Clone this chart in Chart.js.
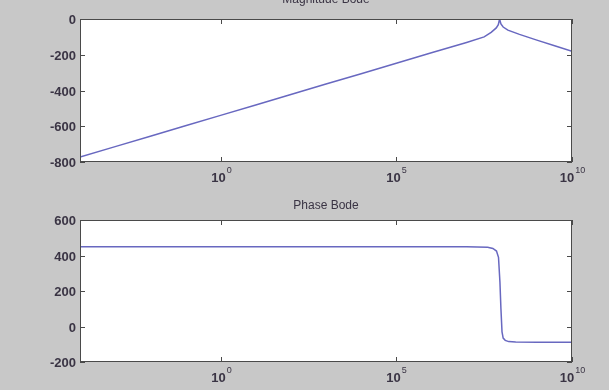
<!DOCTYPE html>
<html>
<head>
<meta charset="utf-8">
<script src="https://cdn.jsdelivr.net/npm/chart.js@4"></script>
<style>
  html, body { margin: 0; padding: 0; background: #c8c8c8; }
  .wrap { position: absolute; left: 0; width: 609px; height: 195px; }
</style>
</head>
<body>
<div class="wrap" style="top:0"><canvas id="magChart" width="609" height="195"></canvas></div>
<div class="wrap" style="top:195px"><canvas id="phaseChart" width="609" height="195"></canvas></div>
<script>
// frequency samples (rad/s) and magnitude
const magFreq = [1e-4, 1e-3, 1e-2, 1e-1, 1, 10, 100, 1e3, 1e4, 1e5, 1e6, 1e7,
  3.16e7, 5.0e7, 7.0e7, 8.0e7, 8.7e7, 9.5e7, 1.1e8, 1.5e8, 3.2e8, 1e9, 3.2e9, 1e10];
const magValues = [-772, -714, -656, -597, -539, -481, -422, -364, -306, -248, -189, -131,
  -100, -75, -50, -32, 0, -28, -45, -62, -86, -118, -150, -180];

// phase samples
const phaseFreq = [1e-4, 1, 1e5, 1e7, 3.98e7, 5.6e7, 7.1e7, 8.1e7, 8.9e7, 9.5e7,
  1.02e8, 1.1e8, 1.26e8, 1.58e8, 2.5e8, 1e9, 1e10];
const phaseValues = [450, 450, 450, 449, 447, 440, 425, 390, 250, 100,
  -30, -65, -78, -85, -88, -89, -89];

// axis ticks
const xTickExps = [0, 5, 10];
const magTicks = [0, -200, -400, -600, -800];
const phaseTicks = [600, 400, 200, 0, -200];

const lineColor = "#6868c0";
const textColor = "#3a3444";

// draws a matlab style box with inward ticks and 10^n labels
const matlabAxes = {
  id: "matlabAxes",
  beforeDraw(chart) {
    const { ctx, chartArea: a } = chart;
    ctx.save();
    ctx.fillStyle = "#ffffff";
    ctx.fillRect(a.left, a.top, a.right - a.left, a.bottom - a.top);
    ctx.restore();
  },
  afterDraw(chart, args, opts) {
    const { ctx, chartArea: a, scales } = chart;
    const x = scales.x, y = scales.y;
    ctx.save();
    ctx.strokeStyle = "#4a4a4a";
    ctx.lineWidth = 1;
    ctx.strokeRect(Math.round(a.left) + 0.5, Math.round(a.top) + 0.5,
      Math.round(a.right - a.left) - 1, Math.round(a.bottom - a.top) - 1);

    ctx.fillStyle = textColor;
    ctx.font = "bold 13px 'Liberation Sans', Arial, sans-serif";
    ctx.textAlign = "right";
    ctx.textBaseline = "middle";
    opts.yTicks.forEach((v) => {
      const py = Math.round(y.getPixelForValue(v)) + 0.5;
      ctx.beginPath();
      ctx.moveTo(a.left, py); ctx.lineTo(a.left + 5, py);
      ctx.moveTo(a.right - 5, py); ctx.lineTo(a.right, py);
      ctx.stroke();
      ctx.fillText(String(v), a.left - 4, py + 1);
    });

    xTickExps.forEach((e) => {
      const px = Math.round(x.getPixelForValue(Math.pow(10, e))) + 0.5;
      ctx.beginPath();
      ctx.moveTo(px, a.top); ctx.lineTo(px, a.top + 5);
      ctx.moveTo(px, a.bottom - 5); ctx.lineTo(px, a.bottom);
      ctx.stroke();
      ctx.font = "bold 13px 'Liberation Sans', Arial, sans-serif";
      const wBase = ctx.measureText("10").width;
      ctx.font = "9px 'Liberation Sans', Arial, sans-serif";
      const wExp = ctx.measureText(String(e)).width;
      const left = px - (wBase + 1 + wExp) / 2;
      ctx.textAlign = "left";
      ctx.textBaseline = "alphabetic";
      ctx.font = "bold 13px 'Liberation Sans', Arial, sans-serif";
      ctx.fillText("10", left, a.bottom + 20);
      ctx.font = "9px 'Liberation Sans', Arial, sans-serif";
      ctx.fillText(String(e), left + wBase + 1, a.bottom + 11);
    });

    ctx.font = "12px 'Liberation Sans', Arial, sans-serif";
    ctx.textAlign = "center";
    ctx.textBaseline = "alphabetic";
    ctx.fillText(opts.title, (a.left + a.right) / 2, opts.titleY);
    ctx.restore();
  },
};

function makeChart(id, freq, values, yMin, yMax, yTicks, pad, title, titleY) {
  const ctx = document.getElementById(id).getContext("2d");
  return new Chart(ctx, {
    type: "line",
    data: {
      datasets: [
        {
          data: freq.map((f, i) => ({ x: f, y: values[i] })),
          borderColor: lineColor,
          borderWidth: 1.5,
          pointRadius: 0,
          tension: 0,
          fill: false,
        },
      ],
    },
    options: {
      responsive: false,
      animation: false,
      layout: { padding: pad },
      plugins: {
        legend: { display: false },
        tooltip: { enabled: false },
        matlabAxes: { yTicks: yTicks, title: title, titleY: titleY },
      },
      scales: {
        x: { type: "logarithmic", min: 1e-4, max: 1e10, display: false },
        y: { type: "linear", min: yMin, max: yMax, display: false },
      },
    },
    plugins: [matlabAxes],
  });
}

makeChart("magChart", magFreq, magValues, -800, 0, magTicks,
  { left: 80, top: 19, right: 37, bottom: 33 }, "Magnitude Bode", 3);
makeChart("phaseChart", phaseFreq, phaseValues, -200, 600, phaseTicks,
  { left: 80, top: 25, right: 37, bottom: 28 }, "Phase Bode", 14);
</script>
</body>
</html>
